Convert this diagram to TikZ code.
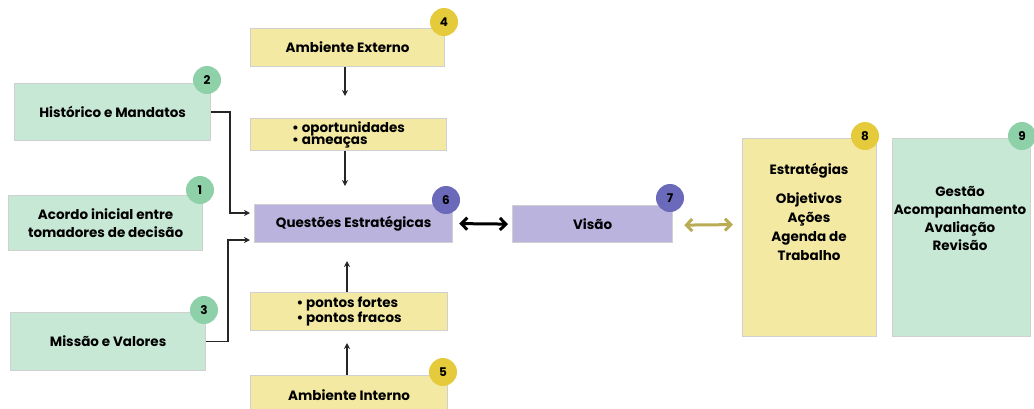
\documentclass[tikz,border=0pt]{standalone}
\usepackage{fontspec}
\setmainfont{Poppins}
\usetikzlibrary{arrows.meta,calc}
\definecolor{mint}{HTML}{C8E8D6}
\definecolor{mintb}{HTML}{8ED1A9}
\definecolor{lemon}{HTML}{F3E9A2}
\definecolor{lemonb}{HTML}{E5CB3C}
\definecolor{lav}{HTML}{B9B3DE}
\definecolor{lavb}{HTML}{6B69B9}
\definecolor{olive}{HTML}{B9AC55}
\definecolor{edge}{HTML}{D0D0D0}
\tikzset{
  box/.style={draw=edge, line width=1.2pt, anchor=north west, inner sep=0pt, align=center,
    font=\bfseries\fontsize{13.5}{18}\selectfont},
  gbox/.style={box, fill=mint},
  ybox/.style={box, fill=lemon},
  pbox/.style={box, fill=lav},
  bul/.style={font=\bfseries\fontsize{13.5}{12}\selectfont, align=left},
  badge/.style={circle, minimum size=28pt, inner sep=0pt, font=\bfseries\fontsize{12}{12}\selectfont},
  gbadge/.style={badge, fill=mintb},
  ybadge/.style={badge, fill=lemonb},
  pbadge/.style={badge, fill=lavb},
  conn/.style={draw=black!85, line width=1.4pt, -{Stealth[length=6pt,width=6pt]}},
  dbl/.style={line width=3pt, {Straight Barb[length=6pt,width=12pt,line width=3pt]}-{Straight Barb[length=6pt,width=12pt,line width=3pt]}},
}
\begin{document}
\begin{tikzpicture}[x=1pt,y=-1pt]
\useasboundingbox (0,0) rectangle (1034,408);
% left green
\node[gbox, minimum width=196pt, minimum height=57pt] (hist) at (14,83) {Histórico e Mandatos};
\node[gbox, minimum width=194pt, minimum height=55pt] (acordo) at (8,195) {Acordo inicial entre\\tomadores de decisão};
\node[gbox, minimum width=195pt, minimum height=58pt] (missao) at (10,312) {Missão e Valores};
\node[gbadge] (b2) at (207,80) {2};
\node[gbadge] (b1) at (200,190) {1};
\node[gbadge] (b3) at (204,310) {3};
% center column
\node[ybox, minimum width=194pt, minimum height=38pt] (ext) at (250,28) {Ambiente Externo};
\node[ybox, minimum width=196pt, minimum height=32pt] (ops) at (250,118) {};
\node[bul] (opst) at (ops.center) {• oportunidades\\• ameaças};
\node[pbox, minimum width=198pt, minimum height=38pt] (quest) at (254,204) {Questões Estratégicas};
\node[ybox, minimum width=197pt, minimum height=38pt] (pontos) at (250,292) {};
\node[bul] (pontost) at (pontos.center) {• pontos fortes\\• pontos fracos};
\node[ybox, minimum width=197pt, minimum height=40pt] (int) at (250,375) {Ambiente Interno};
\node[ybadge] (b4) at (444,22) {4};
\node[pbadge, text=black] (b6) at (446,200) {6};
\node[ybadge] (b5) at (443,372) {5};
% visao
\node[pbox, minimum width=160pt, minimum height=37pt] (visao) at (512,205) {Visão};
\node[pbadge, text=black] (b7) at (670,198) {7};
% right tall boxes
\node[ybox, minimum width=134pt, minimum height=198pt] (estr) at (742,138) {};
\node[font=\bfseries\fontsize{13.5}{19}\selectfont, align=center, anchor=north] (estrt) at (809,160) {Estratégias\\[10pt]Objetivos\\Ações\\Agenda de\\Trabalho};
\node[gbox, minimum width=138pt, minimum height=198pt] (gest) at (892,138) {};
\node[font=\bfseries\fontsize{13.5}{18}\selectfont, align=center, anchor=north] (gestt) at (960,183) {Gestão\\Acompanhamento\\Avaliação\\Revisão};
\node[ybadge] (b8) at (865,136) {8};
\node[gbadge] (b9) at (1022,136) {9};
% connectors
\coordinate (c1) at (345,96);
\coordinate (c2) at (345,186);
\coordinate (c3) at (347,261);
\coordinate (c4) at (347,343);
\draw[conn] (ext.south -| c1) -- (c1);
\draw[conn] (ops.south -| c2) -- (c2);
\draw[conn] (pontos.north -| c3) -- (c3);
\draw[conn] (int.north -| c4) -- (c4);
\draw[conn] (hist.east) -| (230,213) -- (250,213);
\draw[conn] (missao.east) -| (228,240) -- (250,240);
\draw[dbl, black] ($(quest.east)+(6,0)$) -- ($(visao.west)+(-4,0)$);
\draw[dbl, olive] ($(visao.east)+(11,1)$) -- ($(estr.west)+(-9,-13)$);
\end{tikzpicture}
\end{document}
